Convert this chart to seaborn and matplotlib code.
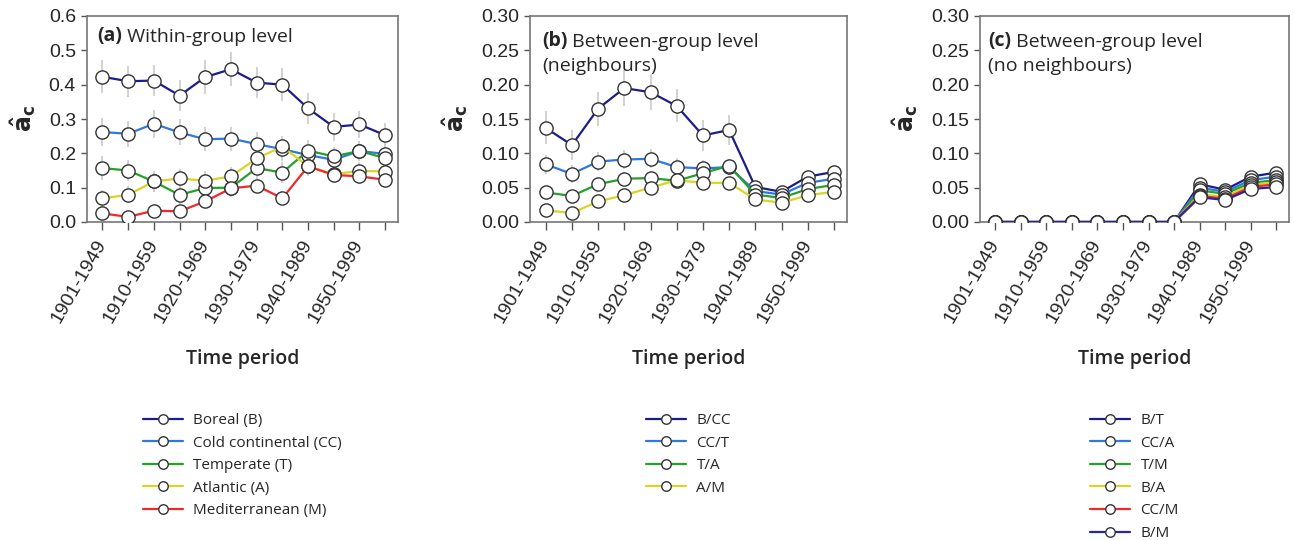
import numpy as np
import pandas as pd
import matplotlib
matplotlib.use("Agg")
import matplotlib.pyplot as plt
import seaborn as sns

# ---------------- data ----------------
tick_labels = ["1901-1949", "", "1910-1959", "", "1920-1969", "", "1930-1979", "",
               "1940-1989", "", "1950-1999", ""]

# panel (a) within-group level
a_names = ["Boreal (B)", "Cold continental (CC)", "Temperate (T)", "Atlantic (A)", "Mediterranean (M)"]
a_B = [0.423, 0.410, 0.412, 0.368, 0.422, 0.445, 0.406, 0.400, 0.331, 0.277, 0.284, 0.253]
a_CC = [0.262, 0.257, 0.286, 0.261, 0.241, 0.243, 0.227, 0.212, 0.195, 0.181, 0.207, 0.198]
a_T = [0.157, 0.150, 0.118, 0.079, 0.099, 0.100, 0.157, 0.144, 0.208, 0.191, 0.207, 0.186]
a_A = [0.069, 0.079, 0.118, 0.127, 0.120, 0.133, 0.185, 0.220, 0.162, 0.139, 0.149, 0.147]
a_M = [0.025, 0.015, 0.033, 0.031, 0.060, 0.098, 0.106, 0.069, 0.162, 0.137, 0.133, 0.123]
a_B_err = [0.048, 0.045, 0.045, 0.045, 0.050, 0.050, 0.045, 0.048, 0.045, 0.040, 0.040, 0.035]
a_CC_err = [0.040, 0.038, 0.040, 0.038, 0.035, 0.035, 0.035, 0.033, 0.030, 0.030, 0.030, 0.028]
a_T_err = [0.035, 0.032, 0.030, 0.028, 0.028, 0.028, 0.030, 0.030, 0.030, 0.028, 0.028, 0.025]
a_A_err = [0.025, 0.025, 0.028, 0.028, 0.028, 0.028, 0.030, 0.030, 0.028, 0.025, 0.025, 0.025]
a_M_err = [0.015, 0.012, 0.015, 0.015, 0.020, 0.022, 0.022, 0.020, 0.025, 0.022, 0.022, 0.020]

# panel (b) between-group level (neighbours)
b_names = ["B/CC", "CC/T", "T/A", "A/M"]
b_BCC = [0.137, 0.112, 0.165, 0.195, 0.189, 0.169, 0.126, 0.134, 0.051, 0.044, 0.066, 0.073]
b_CCT = [0.084, 0.070, 0.088, 0.091, 0.092, 0.080, 0.078, 0.080, 0.045, 0.040, 0.057, 0.063]
b_TA = [0.043, 0.038, 0.055, 0.063, 0.064, 0.060, 0.071, 0.082, 0.040, 0.035, 0.048, 0.054]
b_AM = [0.017, 0.013, 0.030, 0.039, 0.050, 0.061, 0.057, 0.057, 0.033, 0.028, 0.039, 0.044]
b_BCC_err = [0.024, 0.022, 0.025, 0.026, 0.026, 0.024, 0.022, 0.022, 0.008, 0.007, 0.008, 0.008]
b_CCT_err = [0.014, 0.013, 0.014, 0.014, 0.014, 0.013, 0.012, 0.012, 0.006, 0.005, 0.006, 0.006]
b_TA_err = [0.010, 0.009, 0.010, 0.010, 0.010, 0.010, 0.010, 0.010, 0.005, 0.005, 0.005, 0.005]
b_AM_err = [0.006, 0.005, 0.007, 0.008, 0.008, 0.008, 0.008, 0.008, 0.004, 0.004, 0.004, 0.004]

# panel (c) between-group level (no neighbours)
c_names = ["B/T", "CC/A", "T/M", "B/A", "CC/M", "B/M"]
c_BT = [0, 0, 0, 0, 0, 0, 0, 0, 0.055, 0.047, 0.066, 0.072]
c_CCA = [0, 0, 0, 0, 0, 0, 0, 0, 0.050, 0.044, 0.061, 0.066]
c_TM = [0, 0, 0, 0, 0, 0, 0, 0, 0.046, 0.041, 0.057, 0.061]
c_BA = [0, 0, 0, 0, 0, 0, 0, 0, 0.040, 0.037, 0.054, 0.058]
c_CCM = [0, 0, 0, 0, 0, 0, 0, 0, 0.038, 0.034, 0.051, 0.055]
c_BM = [0, 0, 0, 0, 0, 0, 0, 0, 0.036, 0.032, 0.048, 0.051]
c_err = [0, 0, 0, 0, 0, 0, 0, 0, 0.006, 0.005, 0.007, 0.008]

# ---------------- style ----------------
sns.set_theme(style="white")
plt.rcParams["font.family"] = ["Open Sans", "DejaVu Sans"]
plt.rcParams["mathtext.fontset"] = "dejavusans"

col_dark = "#1c1c8a"
col_blue = "#2f78e0"
col_green = "#27a02a"
col_yellow = "#d8d42a"
col_red = "#f0282a"
col_navy2 = "#2626a0"

fig = plt.figure(figsize=(12.94, 5.40), dpi=100)
W, H = 1294.0, 540.0
ax_top, ax_bot = 16, 222
ax_specs = [(87, 398), (530, 847), (980, 1289)]
axes = [fig.add_axes([l / W, 1 - ax_bot / H, (r - l) / W, (ax_bot - ax_top) / H]) for l, r in ax_specs]

x = np.arange(len(tick_labels))


def draw_panel(ax, names, series, errs, colors, ymax, ystep, yfmt):
    for vals, err in zip(series, errs):
        vals = np.asarray(vals, float)
        err = np.asarray(err, float)
        ax.errorbar(x, vals, yerr=err, fmt="none", ecolor="#cfcfcf", elinewidth=1.3, capsize=0, zorder=1)
    for vals, c, n in zip(series, colors, names):
        df = pd.DataFrame({"x": x, "y": vals})
        sns.lineplot(data=df, x="x", y="y", ax=ax, color=c, lw=1.6, marker="o", ms=9.5,
                     markerfacecolor="white", markeredgecolor="#333333", markeredgewidth=1.0,
                     label=n, zorder=3)
    ax.set_xlim(-0.6, 11.5)
    ax.set_ylim(0, ymax)
    yt = np.arange(0, ymax + 1e-9, ystep)
    ax.set_yticks(yt)
    ax.set_yticklabels([yfmt.format(v) for v in yt], family=["Liberation Sans"], fontsize=14)
    ax.set_xticks(x)
    ax.set_xticklabels(tick_labels, rotation=60, ha="right", va="center", rotation_mode="anchor",
                       family=["Liberation Sans"], fontsize=14)
    ax.tick_params(axis="x", direction="out", length=6, width=1, color="#555555", pad=8, bottom=True)
    ax.tick_params(axis="y", direction="out", length=4, width=1, color="#555555", pad=4, left=True)
    for s in ax.spines.values():
        s.set_color("#777777")
        s.set_linewidth(1.2)
    ax.set_ylabel(r"$\mathbf{\hat{a}_c}$", fontsize=17, labelpad=8)
    ax.set_xlabel("Time period", fontsize=14, fontweight="semibold")
    ax.xaxis.set_label_coords(0.5, -0.615)
    ax.xaxis.label.set_va("top")
    leg = ax.legend(loc="upper center", bbox_to_anchor=(0.5, -0.86), frameon=False, fontsize=11,
                    handlelength=2.6, handletextpad=0.7, labelspacing=0.5, markerscale=0.72)
    return leg


draw_panel(axes[0], a_names, [a_B, a_CC, a_T, a_A, a_M],
           [a_B_err, a_CC_err, a_T_err, a_A_err, a_M_err],
           [col_dark, col_blue, col_green, col_yellow, col_red], 0.6, 0.1, "{:.1f}")
draw_panel(axes[1], b_names, [b_BCC, b_CCT, b_TA, b_AM],
           [b_BCC_err, b_CCT_err, b_TA_err, b_AM_err],
           [col_dark, col_blue, col_green, col_yellow], 0.30, 0.05, "{:.2f}")
draw_panel(axes[2], c_names, [c_BT, c_CCA, c_TM, c_BA, c_CCM, c_BM],
           [c_err] * 6,
           [col_dark, col_blue, col_green, col_yellow, col_red, col_navy2], 0.30, 0.05, "{:.2f}")


# panel titles
def title(ax, x0, y0, tag, line1, line2=None):
    t = ax.text(x0, y0, tag, transform=ax.transAxes, fontsize=14, fontweight="bold", va="top", ha="left")
    ax.annotate(" " + line1, xy=(1, 0), xycoords=t, va="bottom", ha="left", fontsize=14)
    if line2:
        ax.text(x0, y0 - 0.122, line2, transform=ax.transAxes, fontsize=14, va="top", ha="left")


title(axes[0], 0.032, 0.95, "(a)", "Within-group level")
title(axes[1], 0.038, 0.925, "(b)", "Between-group level", "(neighbours)")
title(axes[2], 0.026, 0.925, "(c)", "Between-group level", "(no neighbours)")

fig.savefig("out.png", dpi=100, facecolor="white")
